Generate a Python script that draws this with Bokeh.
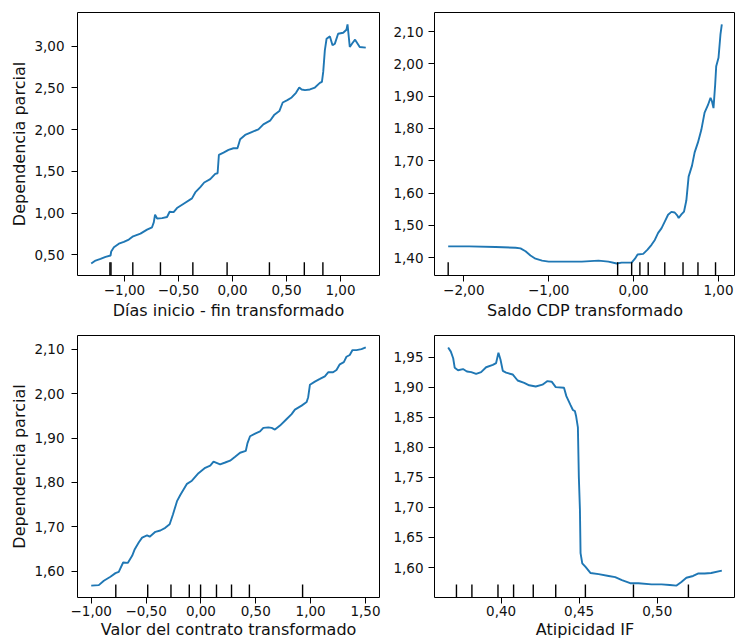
from bokeh.plotting import figure
from bokeh.layouts import column, row
from bokeh.models import Range1d, FixedTicker, CustomJSTickFormatter
from bokeh.embed import file_html
from bokeh.resources import INLINE

# Partial dependence curves: (feature value, partial dependence)
dias_pd = [
    (-1.308, 0.396), (-1.268, 0.432), (-1.222, 0.452), (-1.175, 0.476), (-1.129, 0.492),
    (-1.123, 0.540), (-1.098, 0.590), (-1.052, 0.634), (-1.006, 0.655), (-0.960, 0.683),
    (-0.920, 0.722), (-0.852, 0.754), (-0.791, 0.802), (-0.745, 0.830), (-0.729, 0.889),
    (-0.717, 0.980), (-0.698, 0.936), (-0.652, 0.940), (-0.606, 0.953), (-0.582, 1.016),
    (-0.545, 1.012), (-0.514, 1.060), (-0.452, 1.112), (-0.375, 1.176), (-0.345, 1.247),
    (-0.298, 1.310), (-0.262, 1.366), (-0.206, 1.406), (-0.160, 1.470), (-0.138, 1.477),
    (-0.126, 1.696), (-0.083, 1.724), (-0.037, 1.756), (0.009, 1.776), (0.046, 1.776),
    (0.071, 1.883), (0.117, 1.935), (0.178, 1.970), (0.240, 2.002), (0.286, 2.062),
    (0.348, 2.106), (0.385, 2.173), (0.434, 2.221), (0.465, 2.324), (0.508, 2.352),
    (0.548, 2.384), (0.588, 2.440), (0.618, 2.503), (0.640, 2.480), (0.671, 2.472),
    (0.717, 2.480), (0.763, 2.503), (0.809, 2.559), (0.828, 2.571), (0.840, 2.690),
    (0.855, 2.948), (0.871, 3.087), (0.902, 3.115), (0.926, 3.008), (0.948, 3.028),
    (0.978, 3.147), (1.025, 3.159), (1.055, 3.195), (1.065, 3.258), (1.086, 2.988),
    (1.111, 3.036), (1.135, 3.076), (1.178, 2.988), (1.234, 2.980),
]
saldo_pd = [
    (-2.184, 1.435), (-1.938, 1.435), (-1.625, 1.433), (-1.390, 1.431), (-1.332, 1.429),
    (-1.273, 1.420), (-1.215, 1.407), (-1.156, 1.397), (-1.078, 1.391), (-1.000, 1.388),
    (-0.922, 1.388), (-0.766, 1.388), (-0.610, 1.388), (-0.414, 1.391), (-0.297, 1.388),
    (-0.199, 1.382), (-0.141, 1.385), (-0.023, 1.385), (0.016, 1.397), (0.047, 1.410),
    (0.113, 1.412), (0.164, 1.425), (0.211, 1.440), (0.250, 1.455), (0.289, 1.477),
    (0.328, 1.491), (0.367, 1.512), (0.406, 1.533), (0.445, 1.542), (0.484, 1.540),
    (0.516, 1.530), (0.531, 1.523), (0.563, 1.534), (0.594, 1.543), (0.621, 1.577),
    (0.648, 1.651), (0.688, 1.685), (0.719, 1.726), (0.758, 1.757), (0.797, 1.795),
    (0.836, 1.849), (0.875, 1.872), (0.906, 1.895), (0.922, 1.885), (0.941, 1.863),
    (0.961, 1.937), (0.973, 1.993), (1.000, 2.019), (1.023, 2.091), (1.039, 2.122),
]
valor_pd = [
    (-1.000, 1.568), (-0.931, 1.569), (-0.885, 1.579), (-0.825, 1.588), (-0.779, 1.596),
    (-0.749, 1.599), (-0.709, 1.620), (-0.667, 1.619), (-0.627, 1.635), (-0.603, 1.650),
    (-0.567, 1.665), (-0.536, 1.676), (-0.491, 1.681), (-0.467, 1.678), (-0.415, 1.689),
    (-0.370, 1.692), (-0.325, 1.698), (-0.285, 1.706), (-0.255, 1.728), (-0.218, 1.758),
    (-0.188, 1.772), (-0.127, 1.797), (-0.082, 1.804), (-0.022, 1.821), (0.039, 1.833),
    (0.085, 1.838), (0.115, 1.847), (0.175, 1.841), (0.221, 1.845), (0.266, 1.849),
    (0.312, 1.858), (0.357, 1.867), (0.409, 1.871), (0.424, 1.888), (0.448, 1.904),
    (0.494, 1.910), (0.539, 1.915), (0.569, 1.923), (0.615, 1.924), (0.645, 1.923),
    (0.675, 1.919), (0.721, 1.928), (0.782, 1.943), (0.827, 1.954), (0.857, 1.964),
    (0.918, 1.973), (0.964, 1.981), (0.978, 1.992), (0.994, 2.020), (1.039, 2.027),
    (1.085, 2.033), (1.130, 2.039), (1.160, 2.048), (1.205, 2.048), (1.236, 2.053),
    (1.266, 2.066), (1.303, 2.071), (1.327, 2.083), (1.357, 2.087), (1.382, 2.098),
    (1.418, 2.098), (1.464, 2.100), (1.503, 2.104),
]
atipicidad_pd = [
    (0.3661, 1.966), (0.3678, 1.959), (0.3693, 1.948), (0.3703, 1.932), (0.3724, 1.928),
    (0.3756, 1.930), (0.3781, 1.926), (0.3809, 1.925), (0.3840, 1.922), (0.3872, 1.925),
    (0.3904, 1.933), (0.3947, 1.937), (0.3968, 1.940), (0.3983, 1.957), (0.3996, 1.946),
    (0.4011, 1.927), (0.4032, 1.924), (0.4074, 1.921), (0.4106, 1.911), (0.4148, 1.907),
    (0.4180, 1.903), (0.4222, 1.901), (0.4265, 1.904), (0.4297, 1.910), (0.4324, 1.909),
    (0.4350, 1.900), (0.4403, 1.899), (0.4418, 1.885), (0.4445, 1.870), (0.4460, 1.862),
    (0.4473, 1.860), (0.4481, 1.851), (0.4492, 1.833), (0.4498, 1.751), (0.4505, 1.696),
    (0.4509, 1.624), (0.4520, 1.607), (0.4541, 1.601), (0.4572, 1.591), (0.4625, 1.589),
    (0.4689, 1.586), (0.4731, 1.584), (0.4774, 1.579), (0.4827, 1.574), (0.4880, 1.574),
    (0.4964, 1.572), (0.5028, 1.572), (0.5081, 1.571), (0.5124, 1.570), (0.5155, 1.576),
    (0.5187, 1.583), (0.5230, 1.586), (0.5261, 1.590), (0.5304, 1.590), (0.5346, 1.591),
    (0.5414, 1.595),
]

# Deciles of each feature (rug marks along the bottom)
dias_deciles = [-1.135, -1.125, -0.923, -0.667, -0.367, -0.050, 0.342, 0.665, 0.837]
saldo_deciles = [-2.184, -0.188, -0.023, 0.074, 0.172, 0.367, 0.582, 0.758, 0.965]
valor_deciles = [-0.776, -0.485, -0.273, -0.106, -0.003, 0.142, 0.279, 0.442, 0.927]
atipicidad_deciles = [0.3714, 0.3813, 0.3980, 0.4080, 0.4206, 0.4350, 0.4540, 0.4848, 0.5200]

# Axis ticks
dias_xticks = [-1.0, -0.5, 0.0, 0.5, 1.0]
dias_yticks = [0.5, 1.0, 1.5, 2.0, 2.5, 3.0]
saldo_xticks = [-2.0, -1.0, 0.0, 1.0]
saldo_yticks = [1.4, 1.5, 1.6, 1.7, 1.8, 1.9, 2.0, 2.1]
valor_xticks = [-1.0, -0.5, 0.0, 0.5, 1.0, 1.5]
valor_yticks = [1.6, 1.7, 1.8, 1.9, 2.0, 2.1]
atipicidad_xticks = [0.40, 0.45, 0.50]
atipicidad_yticks = [1.60, 1.65, 1.70, 1.75, 1.80, 1.85, 1.90, 1.95]

FONT = "DejaVu Sans"
LINE_COLOR = "#1f77b4"
TEXT_COLOR = "#111111"
FRAME_H = 263

comma_fmt = CustomJSTickFormatter(
    code="return tick.toFixed(2).replace('.', ',').replace('-', '\u2212');"
)


def padded(vals, frac=0.05):
    lo, hi = min(vals), max(vals)
    span = hi - lo
    return Range1d(lo - frac * span, hi + frac * span)


def pd_panel(points, deciles, xticks, yticks, xlabel, ylabel,
             width, height, left, right, top, ystandoff, xstandoffs):
    xs = [pt[0] for pt in points]
    ys = [pt[1] for pt in points]
    xr = padded(xs)
    yr = padded(ys)
    bottom = height - top - FRAME_H
    p = figure(width=width, height=height, x_range=xr, y_range=yr,
               output_backend="svg", toolbar_location=None,
               min_border=0,
               min_border_left=left, min_border_right=right,
               min_border_top=top, min_border_bottom=bottom)
    p.grid.visible = False
    p.outline_line_color = "black"
    p.outline_line_width = 1
    p.background_fill_color = "white"
    p.border_fill_color = "white"

    p.line(xs, ys, line_color=LINE_COLOR, line_width=1.9)

    rug_bottom = yr.start
    rug_top = yr.start + 0.05 * (yr.end - yr.start)
    p.segment(x0=deciles, x1=deciles,
              y0=[rug_bottom] * len(deciles), y1=[rug_top] * len(deciles),
              line_color="black", line_width=1.4)

    p.xaxis.ticker = FixedTicker(ticks=xticks)
    p.yaxis.ticker = FixedTicker(ticks=yticks)
    for ax in (p.xaxis[0], p.yaxis[0]):
        ax.formatter = comma_fmt
        ax.axis_line_color = None
        ax.major_tick_line_color = "black"
        ax.major_tick_line_width = 1
        ax.major_tick_in = 0
        ax.major_tick_out = 6
        ax.minor_tick_line_color = None
        ax.major_label_text_font = FONT
        ax.major_label_text_font_size = "13.5px"
        ax.major_label_text_color = TEXT_COLOR
        ax.axis_label_text_font = FONT
        ax.axis_label_text_font_size = "16px"
        ax.axis_label_text_font_style = "normal"
        ax.axis_label_text_color = TEXT_COLOR
    p.xaxis.axis_label = xlabel
    p.xaxis.major_label_standoff = xstandoffs[0]
    p.xaxis.axis_label_standoff = xstandoffs[1]
    p.yaxis.major_label_standoff = ystandoff
    p.yaxis.axis_label_standoff = 2
    if ylabel:
        p.yaxis.axis_label = ylabel
    return p


p1 = pd_panel(dias_pd, dias_deciles, dias_xticks, dias_yticks,
              "Días inicio - fin transformado", "Dependencia parcial",
              390, 322, 77, 11, 12, 7, (3, 3))
p2 = pd_panel(saldo_pd, saldo_deciles, saldo_xticks, saldo_yticks,
              "Saldo CDP transformado", None,
              345, 322, 44, 0, 12, 5, (3, 3))
p3 = pd_panel(valor_pd, valor_deciles, valor_xticks, valor_yticks,
              "Valor del contrato transformado", "Dependencia parcial",
              390, 319, 77, 11, 13, 7, (2, 1))
p4 = pd_panel(atipicidad_pd, atipicidad_deciles, atipicidad_xticks, atipicidad_yticks,
              "Atipicidad IF", None,
              345, 319, 44, 0, 13, 5, (2, 1))

layout = column(row(p1, p2), row(p3, p4))
open("out.html", "w").write(file_html(layout, INLINE))
